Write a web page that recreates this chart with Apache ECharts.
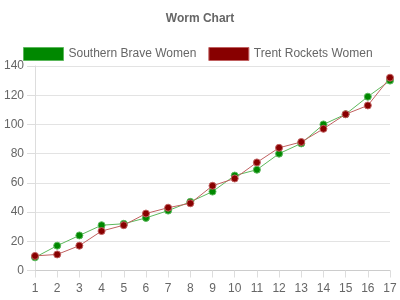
<!DOCTYPE html>
<html><head><meta charset="utf-8">
<script src="https://cdn.jsdelivr.net/npm/echarts@6/dist/echarts.min.js"></script>
<style>html,body{margin:0;padding:0;background:#fff}#c{width:400px;height:300px}</style>
</head><body><div id="c"></div>
<script>
var categories = ['1','2','3','4','5','6','7','8','9','10','11','12','13','14','15','16','17'];
var southernBrave = [9,17,24,31,32,36,41,47,54,65,69,80,87,100,107,119,130];
var trentRockets = [10,11,17,27,31,39,43,46,58,63,74,84,88,97,107,113,132];
var seriesNames = ['Southern Brave Women','Trent Rockets Women'];
var chart = echarts.init(document.getElementById('c'));
var font = 'Liberation Sans, Arial, sans-serif';
function mk(name, data, color, light){
  return {name:name,type:'line',data:data,symbol:'circle',symbolSize:7,
    lineStyle:{width:1,color:light},
    itemStyle:{color:color,borderColor:light,borderWidth:1},
    emphasis:{disabled:true},animation:false};
}
chart.setOption({
  animation:false,
  title:{text:'Worm Chart',left:'center',top:8,textStyle:{fontFamily:font,fontSize:12,fontWeight:'bold',color:'#666'}},
  legend:{top:42,left:18,icon:'rect',itemWidth:40,itemHeight:13,itemGap:12,
    textStyle:{fontFamily:font,fontSize:12,color:'#666'},
    data:[{name:seriesNames[0],itemStyle:{color:'#008800',borderColor:'#5cb85c',borderWidth:1}},
          {name:seriesNames[1],itemStyle:{color:'#880000',borderColor:'#c06060',borderWidth:1}}]},
  grid:{left:35,right:10,top:66,bottom:29.5,containLabel:false},
  xAxis:{type:'category',data:categories,boundaryGap:false,
    axisLine:{lineStyle:{color:'#ccc'}},
    axisTick:{show:true,alignWithLabel:true,length:7,lineStyle:{color:'#ddd'}},
    axisLabel:{fontFamily:font,fontSize:12,color:'#666',margin:12},
    splitLine:{show:false}},
  yAxis:{type:'value',min:0,max:140,interval:20,
    axisLine:{show:true,lineStyle:{color:'#ddd'}},
    axisTick:{show:true,length:8,lineStyle:{color:'#ddd'}},
    axisLabel:{fontFamily:font,fontSize:12,color:'#666',margin:11},
    splitLine:{lineStyle:{color:'#e3e3e3'}}},
  series:[mk(seriesNames[0],southernBrave,'#008800','#5cb85c'),
          mk(seriesNames[1],trentRockets,'#880000','#c06060')]
});
</script></body></html>
